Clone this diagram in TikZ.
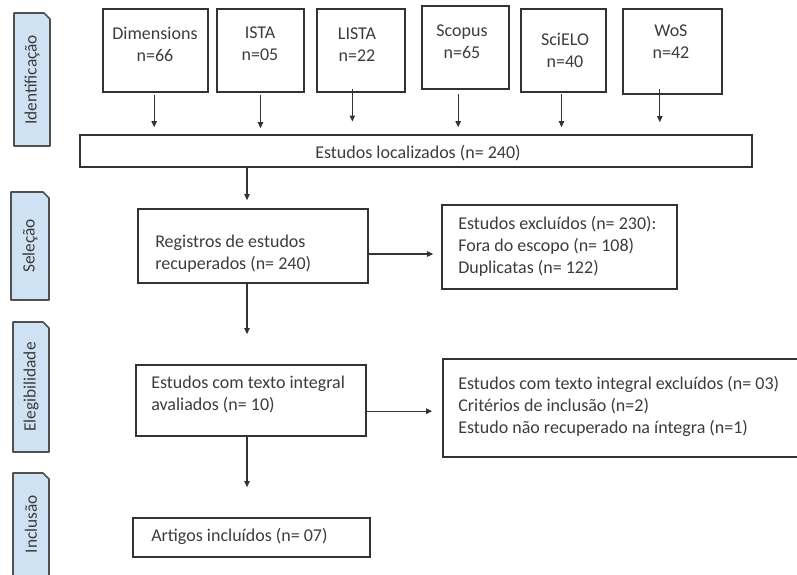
\documentclass[tikz,border=0pt]{standalone}
\usepackage{fontspec}
\setmainfont{Carlito}
\usetikzlibrary{arrows.meta,fit}
\definecolor{lineg}{HTML}{333333}
\definecolor{textg}{HTML}{3C3C3C}
\definecolor{tabfill}{HTML}{CFE2F3}
\definecolor{tabline}{HTML}{505050}
\tikzset{
  box/.style={draw=lineg, line width=1.2pt, inner sep=0pt},
  txt/.style={text=textg, inner sep=0pt, font=\fontsize{13.5}{16.5}\selectfont},
  ctxt/.style={txt, align=center},
  ltxt/.style={txt, align=left, anchor=west},
  arr/.style={draw=lineg, line width=0.9pt, -{Triangle[length=4.5pt,width=4pt]}},
  tab/.style={fill=tabfill, draw=tabline, line width=1.2pt, line join=round},
  tabtxt/.style={text=textg, rotate=90, inner sep=0pt, font=\fontsize{13}{15}\selectfont}
}
\begin{document}
\begin{tikzpicture}[x=0.75pt,y=-0.75pt]
\useasboundingbox (0,0) rectangle (797,575);
\clip (0,0) rectangle (797,575);
% side tabs
\path[tab] (14,146) -- (14,13) -- (44,13) -- (50,19) -- (50,146) -- cycle;
\node[tabtxt] (t1) at (32,80) {Identificação};
\path[tab] (11,300) -- (11,192) -- (43,192) -- (49,198) -- (49,300) -- cycle;
\node[tabtxt] (t2) at (30,246) {Seleção};
\path[tab] (13,452) -- (13,322) -- (43,322) -- (49,328) -- (49,452) -- cycle;
\node[tabtxt] (t3) at (31,387) {Elegibilidade};
\path[tab] (13,585) -- (13,473) -- (43,473) -- (49,479) -- (49,585) -- cycle;
\node[tabtxt] (t4) at (31,524) {Inclusão};
% source boxes
\node[box, fit={(103,9) (208,92)}] (dim) {};
\node[ctxt] (dimt) at (155,44) {Dimensions\\n=66};
\node[box, fit={(217,9) (304,92)}] (ista) {};
\node[ctxt] (istat) at (260,44) {ISTA\\n=05};
\node[box, fit={(317,9) (405,92)}] (lista) {};
\node[ctxt] (listat) at (357,45) {LISTA\\n=22};
\node[box, fit={(422,6) (509,89)}] (scop) {};
\node[ctxt] (scopt) at (462,42) {Scopus\\n=65};
\node[box, fit={(521,9) (606,92)}] (sci) {};
\node[ctxt] (scit) at (565,50) {SciELO\\n=40};
\node[box, fit={(623,9) (722,94)}] (wos) {};
\node[ctxt] (wost) at (671,42) {WoS\\n=42};
% localizados
\node[box, fit={(80,135) (752,167)}] (loc) {};
\node[ctxt] (loct) at (418,153) {Estudos localizados (n= 240)};
% selection
\node[box, fit={(138,209) (368,283)}] (reg) {};
\node[ltxt] (regt) at (155,254) {Registros de estudos\\recuperados (n= 240)};
\node[box, fit={(442,205) (677,289)}] (exc) {};
\node[ltxt] (exct) at (458,246) {Estudos excluídos (n= 230):\\Fora do escopo (n= 108)\\Duplicatas (n= 122)};
% eligibility
\node[box, fit={(136,365) (366,436)}] (tex) {};
\node[ltxt] (text) at (151,394) {Estudos com texto integral\\avaliados (n= 10)};
\node[box, fit={(443,359) (805,457)}] (exc2) {};
\node[ltxt] (exc2t) at (458,406) {Estudos com texto integral excluídos (n= 03)\\Critérios de inclusão (n=2)\\Estudo não recuperado na íntegra (n=1)};
% inclusion
\node[box, fit={(133,518) (370,557)}] (art) {};
\node[ltxt] (artt) at (151,536) {Artigos incluídos (n= 07)};
% arrows from sources
\draw[arr, shorten <=1.5pt, shorten >=5.25pt] ([xshift=-1pt]dim.south) -- ([xshift=-1pt]dim.south |- loc.north);
\draw[arr, shorten <=1.5pt, shorten >=4.5pt] (ista.south) -- (ista.south |- loc.north);
\draw[arr, shorten <=-3pt, shorten >=9.5pt] ([xshift=-6.5pt]lista.south) -- ([xshift=-6.5pt]lista.south |- loc.north);
\draw[arr, shorten <=3.5pt, shorten >=5.25pt] ([xshift=-5.5pt]scop.south) -- ([xshift=-5.5pt]scop.south |- loc.north);
\draw[arr, shorten <=1pt, shorten >=5.25pt] ([xshift=-1.5pt]sci.south) -- ([xshift=-1.5pt]sci.south |- loc.north);
\draw[arr, shorten <=-4.5pt, shorten >=9pt] ([xshift=-9.5pt]wos.south) -- ([xshift=-9.5pt]wos.south |- loc.north);
% main flow
\draw[arr, shorten >=6pt] ([xshift=-4.5pt]reg.north |- loc.south) -- ([xshift=-4.5pt]reg.north);
\draw[arr, shorten >=22.5pt] ([xshift=-4.5pt]reg.south) -- ([xshift=-4.5pt]reg.south |- tex.north);
\draw[arr, shorten >=22.5pt] ([xshift=-3pt]tex.south) -- ([xshift=-3pt]tex.south |- art.north);
% side arrows
\draw[arr, shorten >=6pt] ([yshift=-6pt]reg.east) -- ([yshift=-6pt]reg.east -| exc.west);
\draw[arr, shorten >=7.5pt] ([yshift=-8pt]tex.east) -- ([yshift=-8pt]tex.east -| exc2.west);
\end{tikzpicture}
\end{document}
